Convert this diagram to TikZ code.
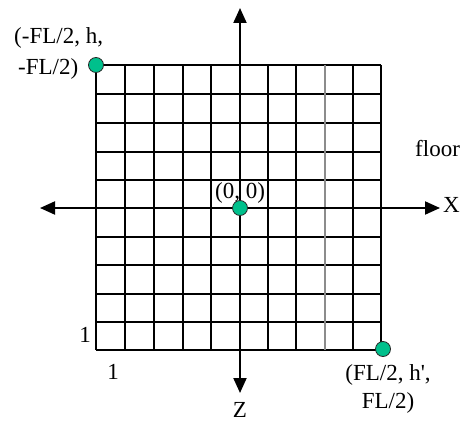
\documentclass[tikz,border=0pt]{standalone}
\usepackage{fontspec}
\setmainfont{Liberation Serif}
\usetikzlibrary{arrows.meta}
\definecolor{dotc}{RGB}{0,192,140}
\definecolor{dotline}{RGB}{40,40,40}
\begin{document}
\begin{tikzpicture}[x=1pt,y=-1pt,
  gridline/.style={line width=2pt,black},
  grayline/.style={line width=2pt,black!45},
  axis/.style={line width=2pt,black,{Triangle[width=13pt,length=15pt]}-{Triangle[width=13pt,length=15pt]}},
  dot/.style={circle,fill=dotc,draw=dotline,line width=0.8pt,minimum size=15pt,inner sep=0pt},
  lbl/.style={font=\fontsize{23}{31}\selectfont,inner sep=0pt}
]
\useasboundingbox (0,0) rectangle (462,422);
% grid
\foreach \y in {65,94,123,152,180,208,237,265,294,322,350}{
  \draw[gridline] (96,\y) -- (381,\y);
}
\foreach \x in {96,125,154,183,211,240,268,296,353,381}{
  \draw[gridline] (\x,65) -- (\x,350);
}
\draw[grayline] (325,65) -- (325,350);
% axes
\coordinate (xl) at (40,208);
\coordinate (xr) at (440,208);
\coordinate (zt) at (240,8);
\coordinate (zb) at (240,393);
\draw[axis] (xl) -- (xr);
\draw[axis] (zt) -- (zb);
% dots
\node[dot] (ptl) at (96,65) {};
\node[dot] (pc) at (240,208) {};
\node[dot] (pbr) at (383,349) {};
% labels
\node[lbl,align=left,anchor=north west] (ltl) at (14,27) {(-FL/2, h,\\\hspace*{4pt}-FL/2)};
\node[lbl,anchor=base] (lc) at (240,198) {(0, 0)};
\node[lbl,align=center,font=\fontsize{23}{28}\selectfont,anchor=north] (lbr) at (388,364) {(FL/2, h\textquotesingle,\\FL/2)};
\node[lbl,anchor=base] (lone1) at (85,342) {1};
\node[lbl,anchor=base] (lone2) at (113,379) {1};
\node[lbl,anchor=base] (lz) at (240,417) {Z};
\node[lbl,anchor=base west] (lx) at (443,212) {X};
\node[lbl,anchor=base west] (lfloor) at (415,156) {floor};
\end{tikzpicture}
\end{document}
